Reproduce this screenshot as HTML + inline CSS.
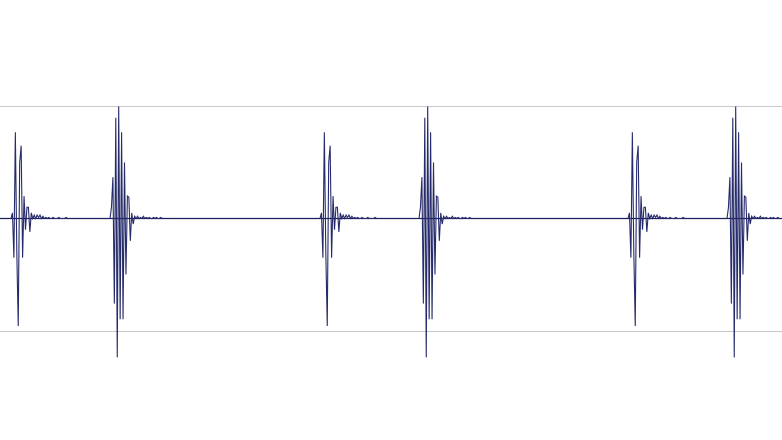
<!DOCTYPE html>
<html><head><meta charset="utf-8"><style>
html,body{margin:0;padding:0;background:#fff;width:782px;height:440px;overflow:hidden}
svg{display:block}
</style></head><body>
<svg id="chart" width="782" height="440" viewBox="0 0 782 440">
<line x1="0" x2="782" y1="106.5" y2="106.5" stroke="#c8c8c8" stroke-width="1"/>
<line x1="0" x2="782" y1="331.5" y2="331.5" stroke="#c8c8c8" stroke-width="1"/>
<line x1="0" x2="782" y1="218.5" y2="218.5" stroke="#1a1f5e" stroke-width="1.2"/>
<g id="series"></g>
</svg>
<script>
// burst start times (time units)
const s1Starts = [11, 320, 628];
const s2Starts = [110, 419, 727];
// S1 template amplitudes (1 sample per time step), +1 = upper gridline
const s1Values = [0, 0.05, -0.35, 0.77, -0.3, -0.96, 0.5, 0.65, -0.35, 0.2, -0.1, 0.1, 0.1, -0.12, 0.05, 0, 0.03, 0, 0.03, 0.01, 0.03, 0, 0.02, 0, 0.01, 0, 0.01, 0, 0, 0.01, 0, 0, 0, 0.01, 0, 0, 0, 0, 0.01, 0];
// S2 template amplitudes
const s2Values = [0, 0.1, 0.37, -0.76, 0.9, -1.24, 1.0, -0.9, 0.77, -0.9, 0.5, -0.5, 0.2, 0.19, -0.2, 0.05, -0.05, 0.02, 0, 0.02, 0, 0.01, 0, 0.02, 0, 0.01, 0, 0.01, 0, 0, 0.01, 0, 0.01, 0, 0, 0.01, 0];
const step = 1.45;
const xScale = (s, k) => s + k * step;
const yScale = v => 218.5 - v * 112;
const g = document.getElementById('series');
function draw(starts, vals, name) {
  starts.forEach((s, i) => {
    const pts = vals.map((v, k) => xScale(s, k).toFixed(2) + ',' + yScale(v).toFixed(1)).join(' ');
    const pl = document.createElementNS('http://www.w3.org/2000/svg', 'polyline');
    pl.setAttribute('points', pts);
    pl.setAttribute('fill', 'none');
    pl.setAttribute('stroke', '#262b6a');
    pl.setAttribute('stroke-width', '1.1');
    
    
    g.appendChild(pl);
  });
}
draw(s1Starts, s1Values, 's1-burst');
draw(s2Starts, s2Values, 's2-burst');
</script>
</body></html>
